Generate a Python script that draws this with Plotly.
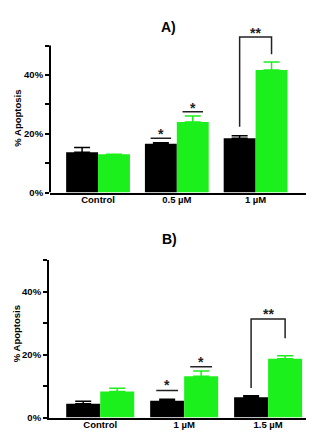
import plotly.graph_objects as go

# ---------- data ----------
cats_a = ["Control", "0.5 µM", "1 µM"]
black_a = [13.7, 16.6, 18.5]
black_a_err = [1.6, 0.3, 0.8]
green_a = [13.0, 24.0, 41.7]
green_a_err = [0.0, 2.0, 2.7]

cats_b = ["Control", "1 µM", "1.5 µM"]
black_b = [4.4, 5.3, 6.4]
black_b_err = [0.8, 0.5, 0.5]
green_b = [8.3, 13.1, 18.7]
green_b_err = [1.0, 1.7, 0.9]

ytick_vals = [0, 10, 20, 30, 40, 50]
ytick_text = ["0%", "", "20%", "", "40%", ""]

GREEN = "#1cf01c"
FONT = "Liberation Sans, Arial, sans-serif"
W, H = 314, 433

fig = go.Figure()
xs = [0, 1, 2]


def add_bars(xa, ya, black, berr, green, gerr):
    fig.add_trace(go.Bar(x=xs, y=black, marker=dict(color="black", line=dict(width=0)),
                         error_y=dict(type="data", array=berr, arrayminus=[0]*3, symmetric=False,
                                      color="black", thickness=1.5, width=8),
                         xaxis=xa, yaxis=ya, offsetgroup="b", showlegend=False))
    fig.add_trace(go.Bar(x=xs, y=green, marker=dict(color=GREEN, line=dict(width=0)),
                         error_y=dict(type="data", array=gerr, arrayminus=[0]*3, symmetric=False,
                                      color=GREEN, thickness=1.5, width=8),
                         xaxis=xa, yaxis=ya, offsetgroup="g", showlegend=False))


add_bars("x", "y", black_a, black_a_err, green_a, green_a_err)
add_bars("x2", "y2", black_b, black_b_err, green_b, green_b_err)

off = 0.2025
half = 0.13
shapes = []
annots = []


def hline(xr, yr, xc, y):
    shapes.append(dict(type="line", xref=xr, yref=yr, x0=xc - half, x1=xc + half, y0=y, y1=y,
                       line=dict(color="#222", width=1.5)))


def star(xr, yr, xc, y, txt="*"):
    annots.append(dict(xref=xr, yref=yr, x=xc, y=y, text="<b>%s</b>" % txt, showarrow=False,
                       font=dict(family=FONT, size=14, color="#222"), yanchor="middle"))


def bracket(xr, yr, yl, yrr, ytop):
    xl, xrr = 2 - off, 2 + off
    shapes.append(dict(type="path", xref=xr, yref=yr,
                       path="M %f,%f L %f,%f L %f,%f L %f,%f" % (xl, yl, xl, ytop, xrr, ytop, xrr, yrr),
                       line=dict(color="#222", width=1.5)))


# Panel A annotations
hline("x", "y", 1 - off, 18.5)
star("x", "y", 1 - off, 19.8)
hline("x", "y", 1 + off, 27.5)
star("x", "y", 1 + off, 28.8)
bracket("x", "y", 22.4, 47.0, 52.9)
star("x", "y", 2, 54.2, "**")
# Panel B annotations
hline("x2", "y2", 1 - off, 8.6)
star("x2", "y2", 1 - off, 10.2)
hline("x2", "y2", 1 + off, 16.1)
star("x2", "y2", 1 + off, 17.7)
bracket("x2", "y2", 9.4, 25.2, 31.3)
star("x2", "y2", 2, 32.8, "**")

# y-axis line of panel A drawn up to 50%
shapes.append(dict(type="line", xref="x domain", yref="y", x0=0, x1=0, y0=0, y1=50,
                   line=dict(color="black", width=2)))

# titles
annots.append(dict(xref="paper", yref="paper", x=160 / W, y=1 - 9 / H, text="<b>A)</b>",
                   showarrow=False, font=dict(family=FONT, size=14, color="black")))
annots.append(dict(xref="paper", yref="paper", x=161 / W, y=1 - 234 / H, text="<b>B)</b>",
                   showarrow=False, font=dict(family=FONT, size=14, color="black")))
annots.append(dict(xref="paper", yref="paper", x=10 / W, y=1 - 112 / H, text="<b>% Apoptosis</b>",
                   xanchor="center", yanchor="middle",
                   textangle=-90, showarrow=False, font=dict(family=FONT, size=9.5, color="black")))
annots.append(dict(xref="paper", yref="paper", x=8 / W, y=1 - 330 / H, text="<b>% Apoptosis</b>",
                   xanchor="center", yanchor="middle",
                   textangle=-90, showarrow=False, font=dict(family=FONT, size=9.5, color="black")))

tickfont = dict(family=FONT, size=9.5, color="black", weight="bold")
xcommon = dict(tickvals=xs, showline=True, linecolor="black", linewidth=2, ticks="",
               showgrid=False, zeroline=False, tickfont=tickfont, fixedrange=True,
               ticklabelstandoff=-3)
ycommon = dict(tickvals=ytick_vals, ticktext=ytick_text, ticks="outside", ticklen=4, tickwidth=1.5,
               tickcolor="black", showgrid=False, zeroline=False, tickfont=tickfont)

# pixel geometry
a_y0 = 186.7; a_per = 2.975; a_top = 56
b_y0 = 414.3; b_per = 3.186

fig.update_layout(
    width=W, height=H, margin=dict(l=0, r=0, t=0, b=0),
    paper_bgcolor="white", plot_bgcolor="white",
    barmode="group", bargap=0.19, bargroupgap=0,
    xaxis=dict(domain=[42 / W, 298 / W], range=[-0.61, 2.64], ticktext=cats_a, anchor="y", **xcommon),
    yaxis=dict(domain=[(H - a_y0) / H, (H - (a_y0 - a_top * a_per)) / H], range=[0, a_top],
               showline=False, anchor="x", **ycommon),
    xaxis2=dict(domain=[41 / W, 313 / W], range=[-0.61, 2.63], ticktext=cats_b, anchor="y2", **xcommon),
    yaxis2=dict(domain=[(H - b_y0) / H, (H - (b_y0 - 50 * b_per)) / H], range=[0, 50],
                showline=True, linecolor="black", linewidth=2, anchor="x2", **ycommon),
    shapes=shapes, annotations=annots,
)

fig.write_html("out.html")
